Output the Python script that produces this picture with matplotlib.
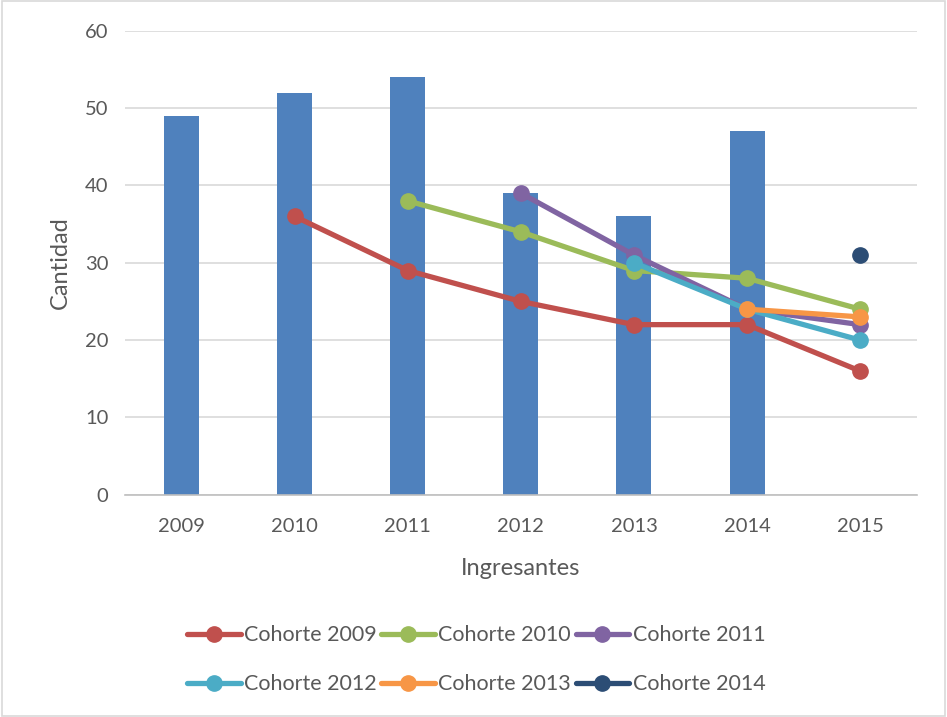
import matplotlib.pyplot as plt
import numpy as np
from matplotlib.patches import Rectangle

plt.rcParams['font.family'] = ['Lato', 'DejaVu Sans']

years = ['2009', '2010', '2011', '2012', '2013', '2014', '2015']
ingresantes = [49, 52, 54, 39, 36, 47, None]

# cohort series: (label, first year index, values)
c2009 = [36, 29, 25, 22, 22, 16]
c2010 = [38, 34, 29, 28, 24]
c2011 = [39, 31, 24, 22]
c2012 = [30, 24, 20]
c2013 = [24, 23]
c2014 = [31]
cohorts = [('Cohorte 2009', 1, c2009, '#C0504D'),
           ('Cohorte 2010', 2, c2010, '#9BBB59'),
           ('Cohorte 2011', 3, c2011, '#8064A2'),
           ('Cohorte 2012', 4, c2012, '#4BACC6'),
           ('Cohorte 2013', 5, c2013, '#F79646'),
           ('Cohorte 2014', 6, c2014, '#2C4D75')]

txt = '#595959'
fig = plt.figure(figsize=(9.47, 7.17), dpi=100)
ax = fig.add_axes([0.132, 0.310, 0.836, 0.647])

x = np.arange(len(years))
bx = [i for i, v in enumerate(ingresantes) if v is not None]
bv = [v for v in ingresantes if v is not None]
ax.bar(bx, bv, width=0.31, color='#4F81BD', zorder=2)

handles = {}
for label, start, vals, col in cohorts:
    xs = x[start:start + len(vals)]
    h, = ax.plot(xs, vals, color=col, lw=3.8, marker='o', ms=11,
                 solid_capstyle='round', zorder=3, label=label)
    handles[label] = h

ax.set_xlim(-0.5, 6.5)
ax.set_ylim(0, 60)
ax.set_yticks(range(0, 61, 10))
ax.set_xticks(x)
ax.set_xticklabels(years)
ax.grid(axis='y', color='#d9d9d9', lw=1.2, zorder=0)
for s in ['top', 'right', 'left']:
    ax.spines[s].set_visible(False)
ax.spines['bottom'].set_color('#bfbfbf')
ax.spines['bottom'].set_linewidth(1.2)
ax.tick_params(length=0, labelsize=14.5, colors=txt)
ax.tick_params(axis='x', pad=17)
ax.tick_params(axis='y', pad=12)
ax.set_xlabel('Ingresantes', fontsize=17, color=txt, labelpad=16)
ax.set_ylabel('Cantidad', fontsize=17, color=txt, labelpad=10)

order = ['Cohorte 2009', 'Cohorte 2012', 'Cohorte 2010',
         'Cohorte 2013', 'Cohorte 2011', 'Cohorte 2014']
leg = fig.legend([handles[k] for k in order], order, ncol=3,
                 loc='center', bbox_to_anchor=(0.503, 0.080), frameon=False,
                 fontsize=15.5, handlelength=2.5, handletextpad=0.15,
                 columnspacing=0.2, labelspacing=1.35)
for t in leg.get_texts():
    t.set_color(txt)

fig.patches.append(Rectangle((0.002, 0.002), 0.996, 0.996, transform=fig.transFigure,
                             fill=False, edgecolor='#d9d9d9', lw=1.2))

plt.savefig('out.png', dpi=100)
